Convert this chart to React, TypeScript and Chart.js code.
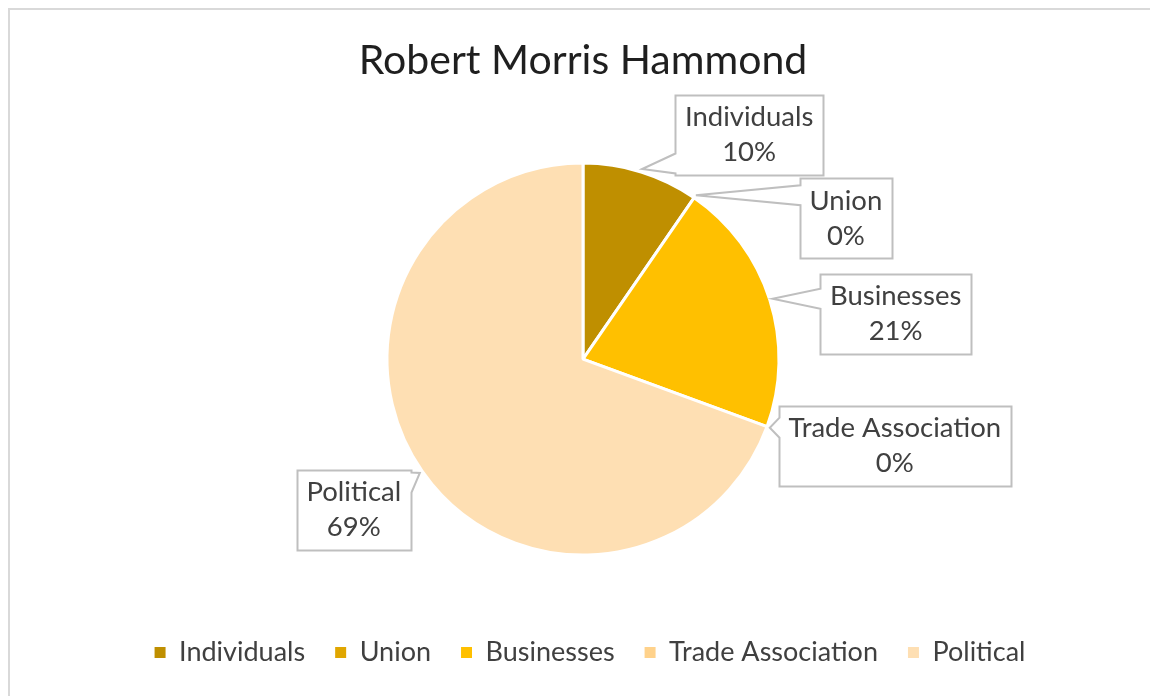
import React, { useEffect, useRef } from "react";
import { Chart, registerables } from "chart.js";

Chart.register(...registerables);

const chartTitle = "Robert Morris Hammond";
const categories = ["Individuals", "Union", "Businesses", "Trade Association", "Political"];
const shares = [9.6, 0, 21.0, 0, 69.4];
const sliceColors = ["#BF8F00", "#E0A600", "#FFC000", "#FFD28B", "#FEDFB3"];

const FONT = "Lato, 'Open Sans', sans-serif";
const TEXT_COLOR = "#404040";

// callout box centre offsets relative to the pointer tip (layout only)
const calloutOffsets: [number, number][] = [
  [107, -34],
  [150, 23],
  [123, 15],
  [125, 18],
  [-66, 37],
];

const legendShiftPlugin = {
  id: "legendShift",
  afterLayout(chart: any) {
    const lg = chart.legend;
    if (lg) {
      lg.left += 7;
      lg.right += 7;
    }
  },
};

const calloutPlugin = {
  id: "callouts",
  afterDatasetsDraw(chart: any) {
    const ctx = chart.ctx as CanvasRenderingContext2D;
    const meta = chart.getDatasetMeta(0);
    const data = chart.data.datasets[0].data as number[];
    const total = data.reduce((a, b) => a + b, 0);
    const labelSize = 27.5;
    const lineH = 35;
    ctx.save();
    ctx.font = `${labelSize}px ${FONT}`;
    meta.data.forEach((arc: any, i: number) => {
      const p = arc.getProps(["x", "y", "startAngle", "endAngle", "outerRadius"], true);
      const mid = (p.startAngle + p.endAngle) / 2;
      const r = p.outerRadius + 3;
      const tx = p.x + Math.cos(mid) * r;
      const ty = p.y + Math.sin(mid) * r;
      const line1 = chart.data.labels[i] as string;
      const line2 = `${Math.round((data[i] / total) * 100)}%`;
      const w = Math.max(ctx.measureText(line1).width, ctx.measureText(line2).width) + 19;
      const h = 80;
      const [ox, oy] = calloutOffsets[i];
      const cx = tx + ox;
      const cy = ty + oy;
      const L = Math.round(cx - w / 2) + 0.5;
      const R = Math.round(cx + w / 2) + 0.5;
      const T = Math.round(cy - h / 2) + 0.5;
      const B = Math.round(cy + h / 2) + 0.5;
      const half = 10;
      const ny = Math.min(Math.max(ty, T + 12), B - 12);
      ctx.beginPath();
      if (tx < L) {
        ctx.moveTo(L, T);
        ctx.lineTo(R, T);
        ctx.lineTo(R, B);
        ctx.lineTo(L, B);
        ctx.lineTo(L, ny + half);
        ctx.lineTo(tx, ty);
        ctx.lineTo(L, ny - half);
        ctx.closePath();
      } else {
        ctx.moveTo(L, T);
        ctx.lineTo(R, T);
        ctx.lineTo(R, ny - half);
        ctx.lineTo(tx, ty);
        ctx.lineTo(R, ny + half);
        ctx.lineTo(R, B);
        ctx.lineTo(L, B);
        ctx.closePath();
      }
      ctx.fillStyle = "#FFFFFF";
      ctx.fill();
      ctx.lineWidth = 2;
      ctx.strokeStyle = "#BFBFBF";
      ctx.lineJoin = "miter";
      ctx.stroke();
      ctx.fillStyle = TEXT_COLOR;
      ctx.textAlign = "center";
      ctx.textBaseline = "middle";
      ctx.fillText(line1, cx, cy - lineH / 2);
      ctx.fillText(line2, cx, cy + lineH / 2);
    });
    ctx.restore();
  },
};

export default function App() {
  const canvasRef = useRef<HTMLCanvasElement | null>(null);

  useEffect(() => {
    document.documentElement.style.overflow = "hidden";
    document.body.style.overflow = "hidden";
    if (!canvasRef.current) return;
    const chart = new Chart(canvasRef.current, {
      type: "pie",
      data: {
        labels: categories,
        datasets: [
          {
            data: shares,
            backgroundColor: sliceColors,
            borderColor: "#FFFFFF",
            borderWidth: 3,
          },
        ],
      },
      options: {
        animation: false,
        responsive: true,
        maintainAspectRatio: false,
        radius: 196,
        layout: { padding: { top: 0, left: 6, right: 0, bottom: 20 } },
        plugins: {
          tooltip: { enabled: false },
          title: {
            display: true,
            text: chartTitle,
            color: "#1F1F1F",
            font: { family: FONT, size: 41, weight: "normal" },
            padding: { top: 26, bottom: 24 },
          },
          legend: {
            display: true,
            position: "bottom",
            labels: {
              boxWidth: 11,
              boxHeight: 11,
              padding: 30,
              color: TEXT_COLOR,
              font: { family: FONT, size: 27 },
              generateLabels: (c: any) =>
                (c.data.labels as string[]).map((t, i) => ({
                  text: t,
                  fillStyle: sliceColors[i],
                  strokeStyle: sliceColors[i],
                  lineWidth: 0,
                  hidden: false,
                  index: i,
                  fontColor: TEXT_COLOR,
                })),
            },
          },
        },
      },
      plugins: [legendShiftPlugin, calloutPlugin],
    });
    return () => chart.destroy();
  }, []);

  return (
    <div
      style={{
        position: "fixed",
        left: 8,
        top: 8,
        width: 1170,
        height: 700,
        boxSizing: "border-box",
        borderTop: "2px solid #D9D9D9",
        borderLeft: "2px solid #D9D9D9",
        background: "#FFFFFF",
      }}
    >
      <div style={{ position: "relative", width: 1140, height: 686 }}>
        <canvas ref={canvasRef} />
      </div>
    </div>
  );
}
